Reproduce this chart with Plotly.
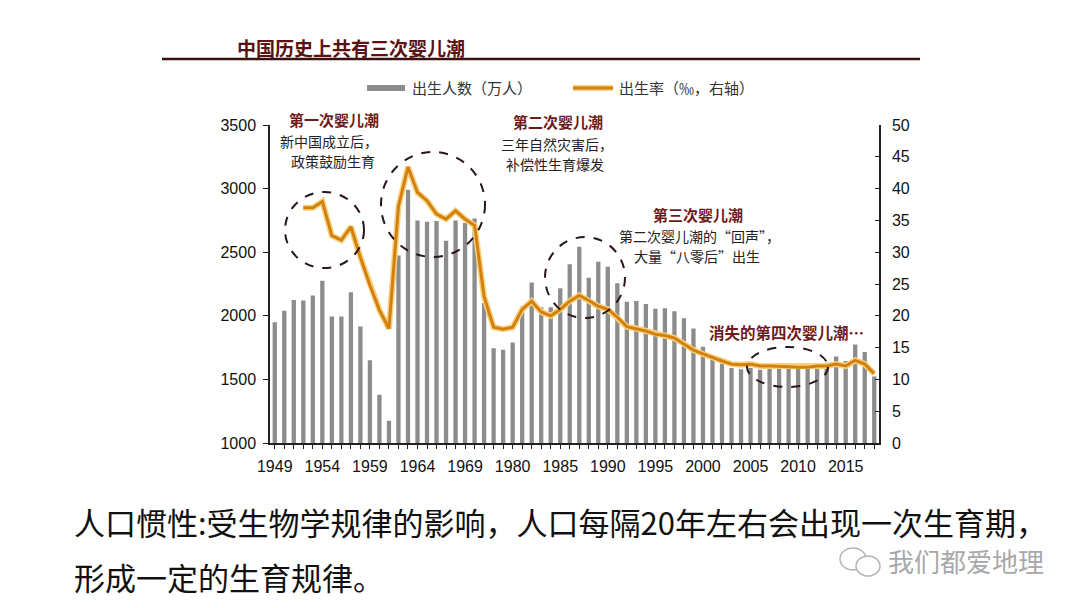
import plotly.graph_objects as go

# ---------------- data ----------------
years = [str(y) for y in range(1949, 1971)] + ["1975", "1978", "1979"] + [str(y) for y in range(1980, 2019)]

births = [1950, 2040, 2125, 2120, 2160, 2275, 1995, 1995, 2185, 1915,
          1650, 1380, 1175, 2475, 2990, 2750, 2740, 2745, 2590, 2750,
          2730, 2765,
          2100, 1745, 1733,
          1790, 2073, 2262, 2067, 2067, 2216, 2405, 2543, 2300, 2425,
          2385, 2255, 2111, 2116, 2093, 2055, 2059, 2035, 1980, 1901,
          1757, 1690, 1625, 1590, 1580, 1590, 1575, 1590, 1595, 1585,
          1590, 1600, 1615, 1630, 1680, 1645, 1775, 1715, 1523]

birth_rate = [None, None, None, 37.0, 37.0, 37.97, 32.6, 31.9, 34.0, 29.2,
              24.8, 20.9, 18.0, 37.2, 43.4, 39.4, 38.1, 36.0, 35.2, 36.5,
              35.2, 34.2,
              23.0, 18.2, 17.9,
              18.2, 21.0, 22.3, 20.6, 20.0, 21.0, 22.3, 23.2, 22.4, 21.5,
              21.0, 19.8, 18.3, 18.0, 17.6, 17.1, 16.9, 16.5, 15.6, 14.6,
              14.0, 13.4, 12.9, 12.4, 12.3, 12.4, 12.1, 12.1, 12.1, 12.0,
              11.9, 11.9, 12.1, 12.1, 12.4, 12.1, 13.0, 12.4, 10.9]

tick_years = ["1949", "1954", "1959", "1964", "1969", "1980", "1985", "1990",
              "1995", "2000", "2005", "2010", "2015"]

left_ticks = [1000, 1500, 2000, 2500, 3000, 3500]
right_ticks = list(range(0, 51, 5))

title_text = "中国历史上共有三次婴儿潮"
legend_bar = "出生人数（万人）"
legend_line = "出生率（‰，右轴）"

# ---------------- layout geometry (pixels of the target picture) ----------------
OFF = 8  # page body margin of the browser
W, H = 1080, 608
PL, PR, PT, PB = 270, 879, 125, 443


def px(x):
    return (x - PL) / (PR - PL)


def py(y):
    return (PB - y) / (PB - PT)


CJK = "Noto Sans CJK SC"
NUM = "Liberation Sans, Arial, sans-serif"
RED = "#6E1A1A"

fig = go.Figure()
fig.add_trace(go.Bar(x=years, y=births, marker_color="#8C8C8C", marker_line_width=0,
                     yaxis="y", showlegend=False, hoverinfo="x+y"))
fig.add_trace(go.Scatter(x=years, y=birth_rate, mode="lines", yaxis="y2",
                         line=dict(color="#F6D27A", width=6), showlegend=False,
                         hoverinfo="skip"))
fig.add_trace(go.Scatter(x=years, y=birth_rate, mode="lines", yaxis="y2",
                         line=dict(color="#D47F12", width=3), showlegend=False))

ticktext = [y if y in tick_years else "" for y in years]

fig.update_layout(
    width=W, height=H,
    margin=dict(l=PL - OFF, r=W - PR + OFF, t=PT - OFF, b=H - PB + OFF),
    paper_bgcolor="white", plot_bgcolor="white",
    bargap=0.55,
    showlegend=False,
    xaxis=dict(type="category", categoryorder="array", categoryarray=years,
               range=[-0.5, len(years) - 0.5],
               tickmode="array", tickvals=years, ticktext=ticktext,
               ticks="outside", ticklen=4, tickcolor="#222", tickwidth=1,
               showline=True, linecolor="#222", linewidth=1.5,
               showgrid=False, zeroline=False, ticklabelstandoff=4,
               tickfont=dict(family=NUM, size=16, color="#111")),
    yaxis=dict(range=[1000, 3500], tickmode="array", tickvals=left_ticks,
               ticks="outside", ticklen=5, tickcolor="#222",
               showline=True, linecolor="#222", linewidth=1.5,
               showgrid=False, zeroline=False, ticklabelstandoff=4,
               tickfont=dict(family=NUM, size=16, color="#111")),
    yaxis2=dict(range=[0, 50], tickmode="array", tickvals=right_ticks,
                overlaying="y", side="right",
                ticks="inside", ticklen=4, tickcolor="#222",
                showline=True, linecolor="#222", linewidth=1.5,
                showgrid=False, zeroline=False, ticklabelstandoff=8,
                tickfont=dict(family=NUM, size=16, color="#111")),
)

shapes = []
annos = []


def text(x, y, s, size=15, color="#222", bold=False, xanchor="center", family=CJK):
    annos.append(dict(x=px(x), y=py(y), xref="paper", yref="paper", text=s,
                      showarrow=False, xanchor=xanchor, yanchor="middle",
                      font=dict(family=family, size=size, color=color,
                                weight="bold" if bold else "normal")))


# title + separator
text(351, 47, title_text, size=19, color="#5A1212", bold=True)
shapes.append(dict(type="line", xref="paper", yref="paper", x0=px(162), x1=px(920),
                   y0=py(59), y1=py(59), line=dict(color="#3A1010", width=2.5)))

# legend (custom)
shapes.append(dict(type="rect", xref="paper", yref="paper", x0=px(367), x1=px(405),
                   y0=py(85), y1=py(91), fillcolor="#8C8C8C", line=dict(width=0)))
text(410, 88, legend_bar, size=15, color="#333", xanchor="left")
shapes.append(dict(type="line", xref="paper", yref="paper", x0=px(573), x1=px(613),
                   y0=py(88), y1=py(88), line=dict(color="#F6D27A", width=6)))
shapes.append(dict(type="line", xref="paper", yref="paper", x0=px(573), x1=px(613),
                   y0=py(88), y1=py(88), line=dict(color="#D47F12", width=3)))
text(617, 88, legend_line, size=15, color="#333", xanchor="left")

# annotations
text(334, 119, "第一次婴儿潮", size=15, color=RED, bold=True)
text(329, 140.5, "新中国成立后，", size=14)
text(333, 161, "政策鼓励生育", size=14)

text(558, 122, "第二次婴儿潮", size=15, color=RED, bold=True)
text(557, 143.5, "三年自然灾害后，", size=14)
text(555, 164, "补偿性生育爆发", size=14)

text(698, 214, "第三次婴儿潮", size=15, color=RED, bold=True)
text(699, 235.5, "第二次婴儿潮的“回声”，", size=14)
text(697, 256, "大量“八零后”出生", size=14)

text(786, 332, "消失的第四次婴儿潮…", size=15.5, color=RED, bold=True)

# dashed circles
for (x0, x1, y0, y1) in [(285, 364, 192, 268), (381, 485, 152, 257),
                         (545, 625, 237, 318), (747, 828, 347, 387)]:
    shapes.append(dict(type="circle", xref="paper", yref="paper",
                       x0=px(x0), x1=px(x1), y0=py(y1), y1=py(y0),
                       line=dict(color="#2A1616", width=2, dash="dash")))

# bottom caption
text(72, 521, "人口惯性:受生物学规律的影响，人口每隔20年左右会出现一次生育期，",
     size=31, color="#111", xanchor="left")
text(72, 576, "形成一定的生育规律。", size=31, color="#111", xanchor="left")

# watermark
shapes.append(dict(type="circle", xref="paper", yref="paper", x0=px(840), x1=px(866),
                   y0=py(570), y1=py(548), line=dict(color="#B5B5B5", width=1.5)))
shapes.append(dict(type="circle", xref="paper", yref="paper", x0=px(856), x1=px(880),
                   y0=py(576), y1=py(556), line=dict(color="#B5B5B5", width=1.5),
                   fillcolor="white"))
text(886, 560, "我们都爱地理", size=26, color="#A8A8A8", xanchor="left")

fig.update_layout(shapes=shapes, annotations=annos)
fig.write_html("out.html")
